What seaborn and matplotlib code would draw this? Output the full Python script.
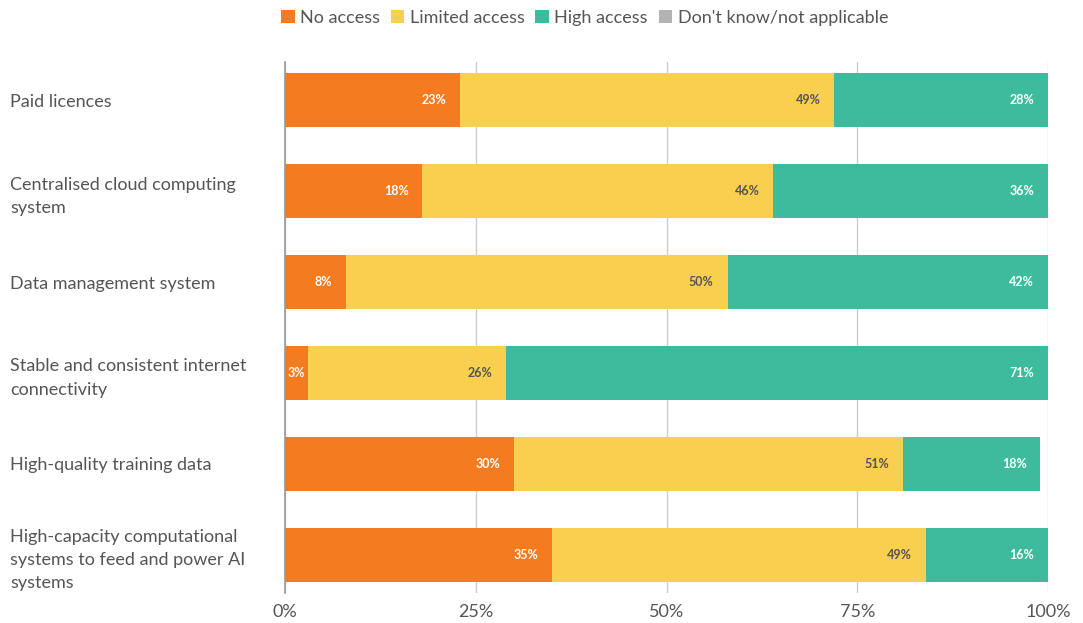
import pandas as pd
import matplotlib.pyplot as plt
import seaborn as sns
import numpy as np
from matplotlib.patches import Patch

# --- Data ---
categories = [
    "Paid licences",
    "Centralised cloud computing\nsystem",
    "Data management system",
    "Stable and consistent internet\nconnectivity",
    "High-quality training data",
    "High-capacity computational\nsystems to feed and power AI\nsystems",
]
no_access = [23, 18, 8, 3, 30, 35]
limited_access = [49, 46, 50, 26, 51, 49]
high_access = [28, 36, 42, 71, 18, 16]
dont_know = [0, 0, 0, 0, 0, 0]

series_names = ["No access", "Limited access", "High access", "Don't know/not applicable"]
colors = ["#F47B20", "#F9CF4F", "#3DBB9C", "#B3B3B3"]
label_colors = ["white", "#555555", "white"]

df = pd.DataFrame({
    "Category": categories,
    "No access": no_access,
    "Limited access": limited_access,
    "High access": high_access,
    "Don't know/not applicable": dont_know,
})
# cumulative ends for stacking
cum = df[series_names].cumsum(axis=1)

# --- Style ---
sns.set_theme(style="white")
plt.rcParams["font.family"] = ["Lato", "DejaVu Sans"]
text_color = "#555555"

fig = plt.figure(figsize=(10.83, 6.23), dpi=100)
ax = fig.add_axes([285 / 1083, 1 - 593 / 623, (1048 - 285) / 1083, (593 - 62) / 623])

# draw widest (cumulative) first, then overlay shorter ones
for i in range(3, -1, -1):
    sns.barplot(x=cum[series_names[i]], y=df["Category"], orient="h",
                color=colors[i], saturation=1, width=0.59, linewidth=0,
                ax=ax, zorder=2)

# segment labels (small segments get a tighter offset)
for i in range(3):
    for j, val in enumerate(df[series_names[i]]):
        if val > 0:
            off = -10 if val >= 6 else -2
            ax.annotate(f"{val}%", (cum[series_names[i]][j], j),
                        xytext=(off, 0), textcoords="offset points",
                        ha="right", va="center", fontsize=9, fontweight="bold",
                        color=label_colors[i], zorder=5)

ax.set_xlim(0, 100)
ax.set_ylim(5.42, -0.42)
ax.set_xticks([0, 25, 50, 75, 100])
ax.set_xticklabels(["0%", "25%", "50%", "75%", "100%"])
ax.xaxis.grid(True, color="#cccccc", linewidth=1.0, zorder=0)
ax.set_axisbelow(True)
ax.set_xlabel("")
ax.set_ylabel("")
for s in ["top", "right", "bottom"]:
    ax.spines[s].set_visible(False)
ax.spines["left"].set_color("#999999")
ax.spines["left"].set_linewidth(1.2)
ax.spines["left"].set_zorder(3)
ax.tick_params(axis="x", length=0, pad=8, labelsize=13, labelcolor=text_color)
ax.tick_params(axis="y", length=0, pad=198, labelsize=13, labelcolor=text_color)
for lbl in ax.get_yticklabels():
    lbl.set_ha("left")
    lbl.set_linespacing(1.55)

# legend
handles = [Patch(facecolor=c, edgecolor="none") for c in colors]
fig.legend(handles, series_names, loc="center left",
           bbox_to_anchor=(281 / 1083, 1 - 18 / 623), ncol=4, frameon=False,
           fontsize=13, handlelength=0.75, handleheight=0.75, handletextpad=0.3,
           columnspacing=0.6, borderpad=0, borderaxespad=0, labelcolor=text_color)

plt.savefig("out.png", dpi=100)
